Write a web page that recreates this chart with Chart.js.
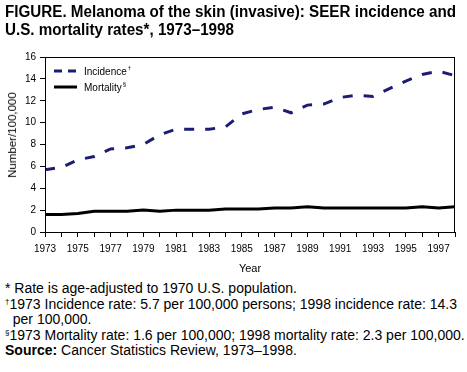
<!DOCTYPE html>
<html>
<head>
<meta charset="utf-8">
<script src="https://cdn.jsdelivr.net/npm/chart.js@4"></script>
<style>
  body { margin: 0; background: #fff; font-family: 'Liberation Sans', Arial, sans-serif; color: #000; }
  #wrap { position: relative; width: 467px; height: 372px; overflow: hidden; }
  #chart { position: absolute; left: 0; top: 0; }
  #title { position: absolute; left: 5px; top: 3px; font-weight: bold; font-size: 16px; line-height: 18px; white-space: nowrap; transform: scaleX(0.95); transform-origin: 0 0; }
  #ytitle { position: absolute; left: 12px; top: 135px; font-size: 11.5px; white-space: nowrap; transform: translate(-50%, -50%) rotate(-90deg); }
  #notes { position: absolute; left: 5px; top: 281px; font-size: 14px; line-height: 15.5px; white-space: nowrap; }
  #notes sup { font-size: 8px; vertical-align: 5px; line-height: 0; }
</style>
</head>
<body>
<div id="wrap">
  <canvas id="chart" width="467" height="280"></canvas>
  <div id="title">FIGURE. Melanoma of the skin (invasive): SEER incidence and<br>U.S. mortality rates*, 1973–1998</div>
  <div id="ytitle">Number/100,000</div>
  <div id="notes">
    * Rate is age-adjusted to 1970 U.S. population.<br>
    <sup>†</sup>1973 Incidence rate: 5.7 per 100,000 persons; 1998 incidence rate: 14.3<br>
    &nbsp;&nbsp;per 100,000.<br>
    <sup>§</sup>1973 Mortality rate: 1.6 per 100,000; 1998 mortality rate: 2.3 per 100,000.<br>
    <b>Source:</b> Cancer Statistics Review, 1973–1998.
  </div>
</div>
<script>
  const years = [1973, 1974, 1975, 1976, 1977, 1978, 1979, 1980, 1981, 1982, 1983, 1984, 1985,
    1986, 1987, 1988, 1989, 1990, 1991, 1992, 1993, 1994, 1995, 1996, 1997, 1998];
  const incidence = [5.7, 5.9, 6.6, 6.9, 7.6, 7.7, 8.0, 8.9, 9.4, 9.4, 9.4, 9.6, 10.8,
    11.2, 11.4, 10.9, 11.6, 11.7, 12.3, 12.5, 12.4, 13.1, 13.8, 14.4, 14.7, 14.3];
  const mortality = [1.6, 1.6, 1.7, 1.9, 1.9, 1.9, 2.0, 1.9, 2.0, 2.0, 2.0, 2.1, 2.1,
    2.1, 2.2, 2.2, 2.3, 2.2, 2.2, 2.2, 2.2, 2.2, 2.2, 2.3, 2.2, 2.3];
  const yTicks = [0, 2, 4, 6, 8, 10, 12, 14, 16];
  const seriesNames = ['Incidence', 'Mortality'];
  const seriesMarks = ['†', '§'];

  const navy = '#1c1c74';
  const font = "'Liberation Sans', Arial, sans-serif";

  // box around the plot area plus the in-plot legend
  const framePlugin = {
    id: 'frame',
    afterDraw(chart) {
      const { ctx, chartArea: a } = chart;
      ctx.save();
      ctx.strokeStyle = '#000';
      ctx.lineWidth = 1;
      ctx.strokeRect(a.left + 0.5, a.top + 0.5, a.right - a.left - 1, a.bottom - a.top);

      chart.data.datasets.forEach((ds, i) => {
        const y = a.top + 14 + i * 16;
        const x = a.left + 9;
        ctx.beginPath();
        ctx.setLineDash(ds.borderDash && ds.borderDash.length ? [8, 6] : []);
        ctx.strokeStyle = ds.borderColor;
        ctx.lineWidth = 3;
        ctx.moveTo(x, y);
        ctx.lineTo(x + 23, y);
        ctx.stroke();
        ctx.setLineDash([]);
        ctx.fillStyle = '#000';
        ctx.textBaseline = 'middle';
        ctx.font = '10px ' + font;
        ctx.fillText(ds.label, x + 30, y + 1);
        const w = ctx.measureText(ds.label).width;
        ctx.font = '6px ' + font;
        ctx.fillText(seriesMarks[i], x + 31 + w, y - 3);
      });
      ctx.restore();
    }
  };

  new Chart(document.getElementById('chart'), {
    type: 'line',
    data: {
      datasets: [
        {
          label: seriesNames[0],
          data: years.map((x, i) => ({ x, y: incidence[i] })),
          borderColor: navy,
          borderWidth: 3,
          borderDash: [10, 11],
          pointRadius: 0,
          tension: 0,
        },
        {
          label: seriesNames[1],
          data: years.map((x, i) => ({ x, y: mortality[i] })),
          borderColor: '#000',
          borderWidth: 3,
          pointRadius: 0,
          tension: 0,
        },
      ],
    },
    options: {
      responsive: false,
      animation: false,
      layout: { padding: { top: 57, right: 12, left: 0, bottom: 0 } },
      plugins: { legend: { display: false }, tooltip: { enabled: false } },
      scales: {
        x: {
          type: 'linear',
          min: years[0],
          max: years[years.length - 1],
          afterBuildTicks(scale) {
            scale.ticks = years.map(v => ({ value: v }));
          },
          afterFit(scale) { scale.height = 48; },
          grid: { drawOnChartArea: false, color: '#000', tickLength: 5, tickWidth: 1 },
          border: { color: '#000', width: 1 },
          ticks: {
            autoSkip: false,
            maxRotation: 0,
            padding: 6,
            color: '#000',
            font: { family: font, size: 10 },
            callback: v => (v % 2 === 1 && v < 1998 ? String(v) : ''),
          },
          title: { display: true, text: 'Year', color: '#000', font: { family: font, size: 11 }, padding: { top: 1 } },
        },
        y: {
          min: 0,
          max: 16,
          afterBuildTicks(scale) {
            scale.ticks = yTicks.map(v => ({ value: v }));
          },
          afterFit(scale) { scale.width = 45; },
          grid: { drawOnChartArea: false, color: '#000', tickLength: 5, tickWidth: 1 },
          border: { color: '#000', width: 1 },
          ticks: { color: '#000', padding: 4, font: { family: font, size: 10 } },
        },
      },
    },
    plugins: [framePlugin],
  });
</script>
</body>
</html>
